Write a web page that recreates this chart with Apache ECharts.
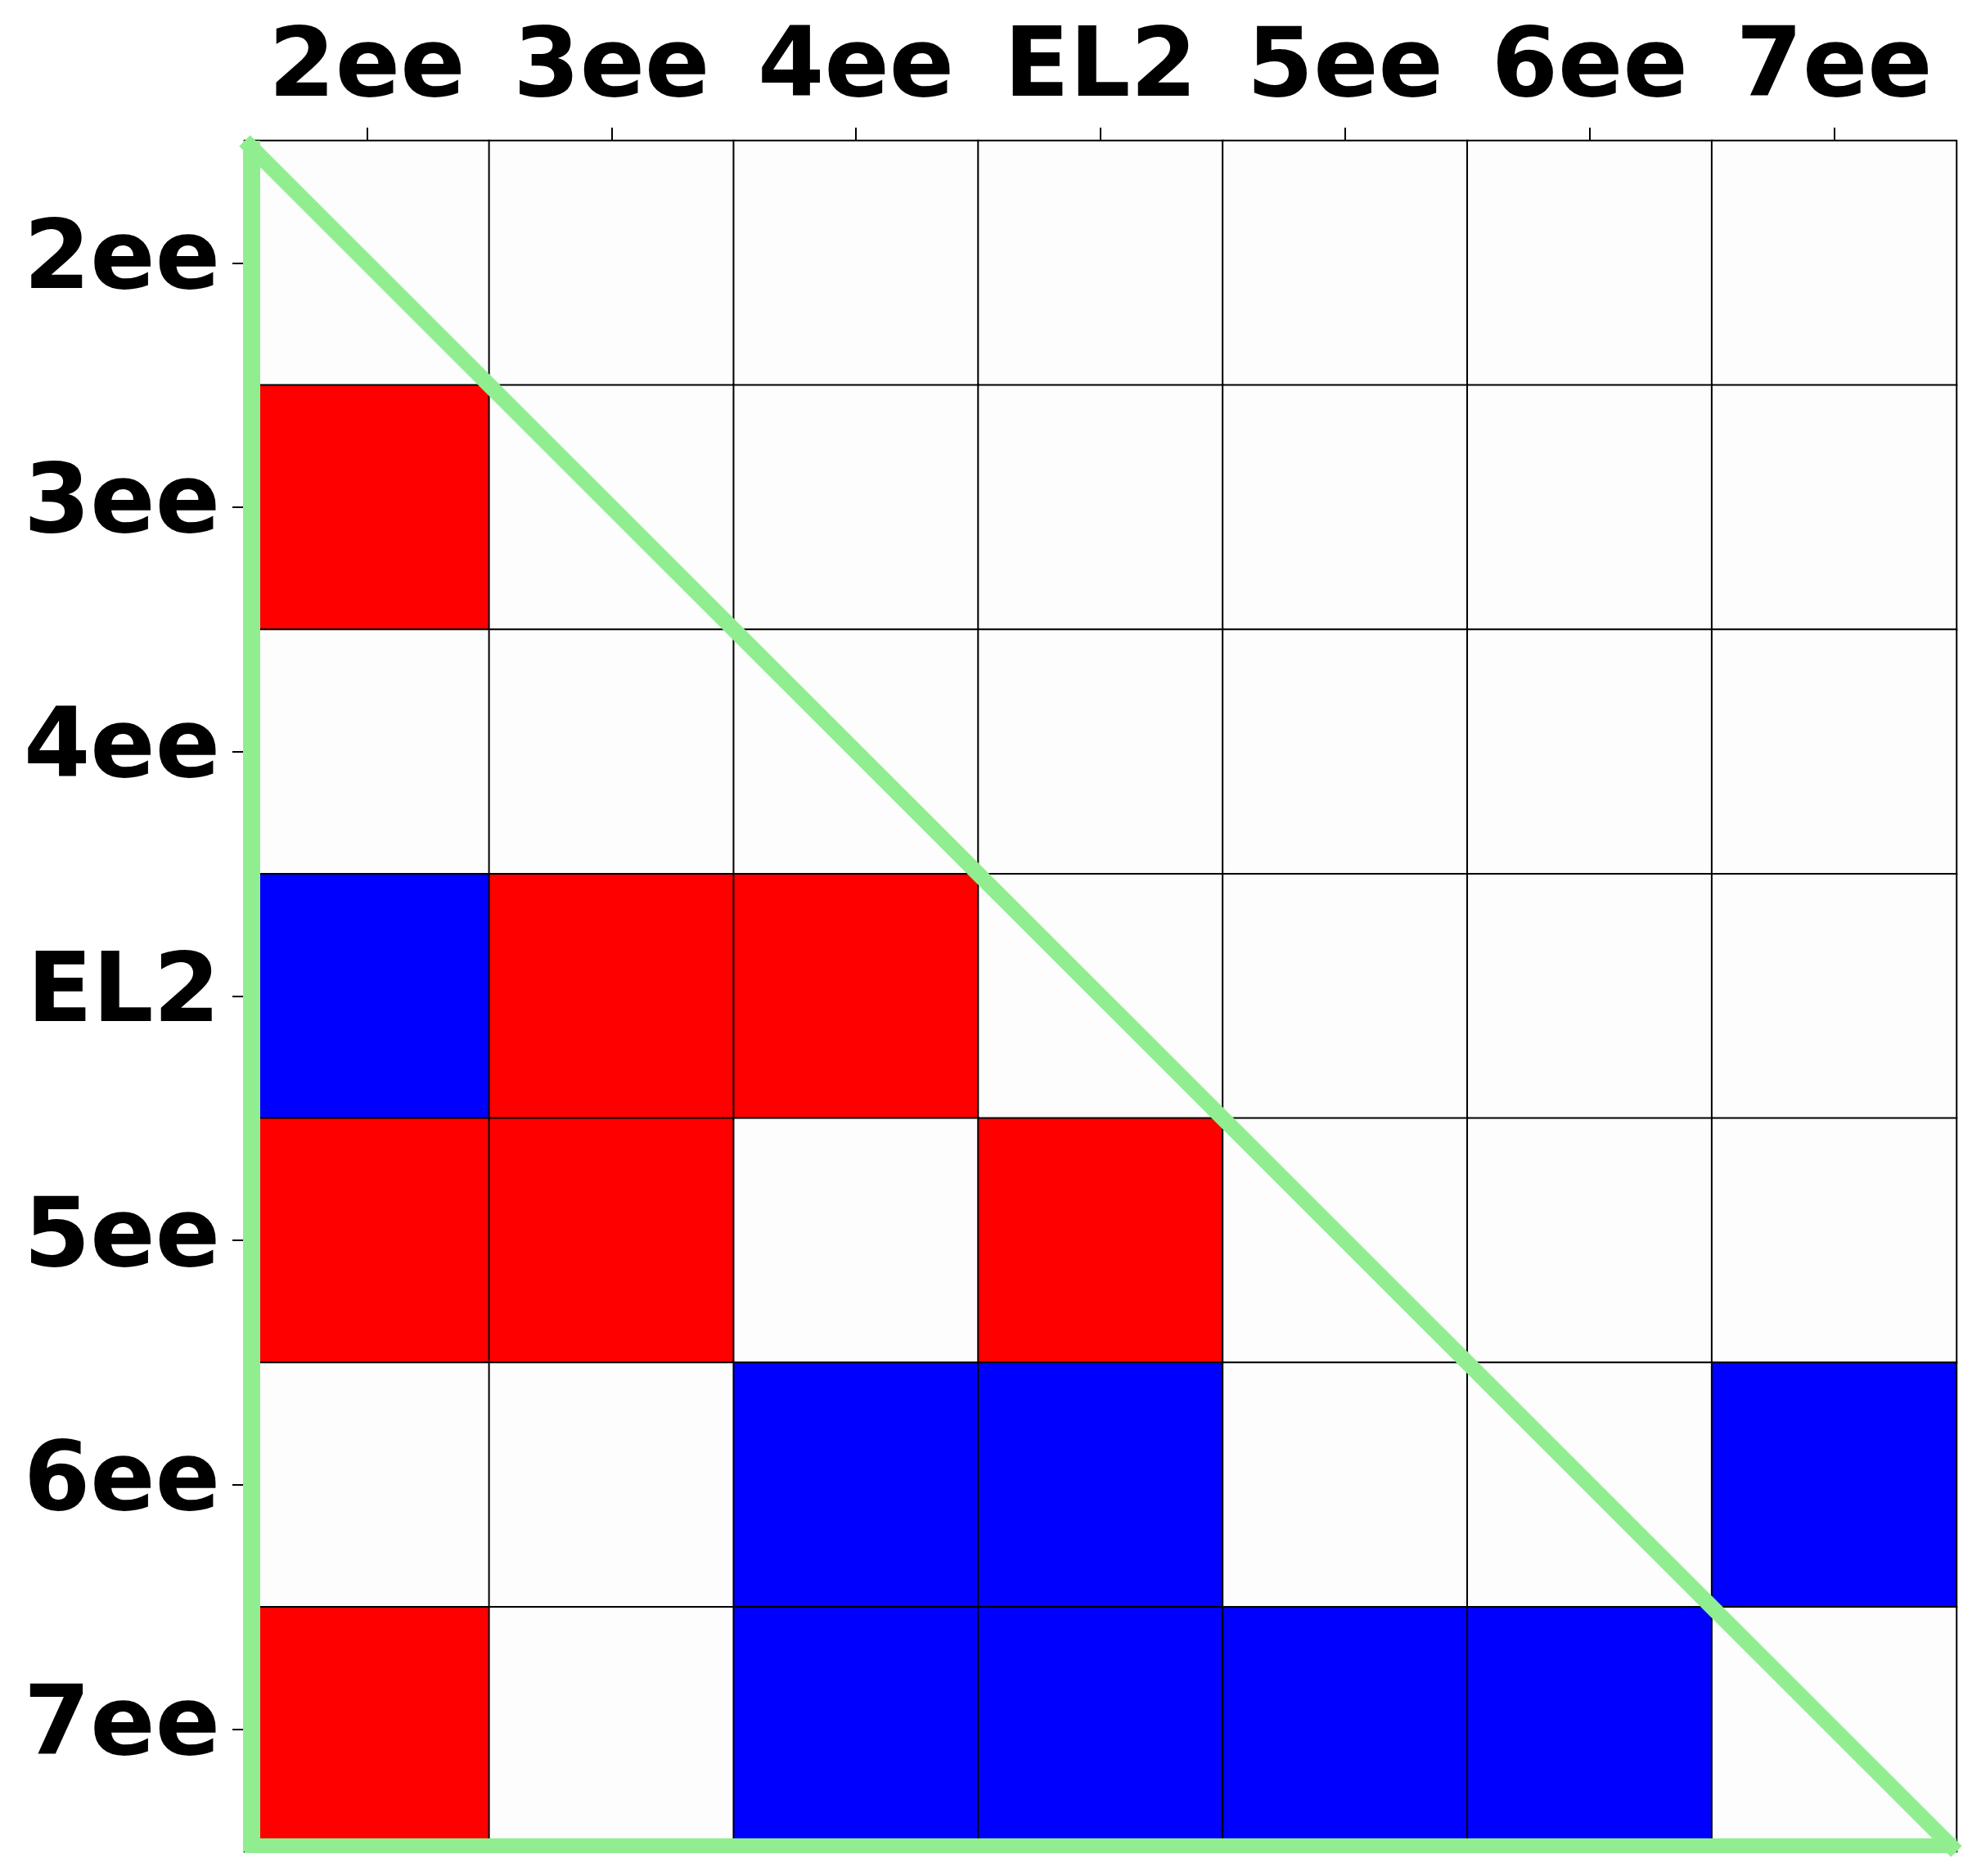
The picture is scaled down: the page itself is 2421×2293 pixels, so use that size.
<!DOCTYPE html>
<html>
<head>
<meta charset="utf-8">
<style>
  html, body { margin: 0; padding: 0; background: #ffffff; }
  #chart { width: 2421px; height: 2293px; }
</style>
<script src="https://cdn.jsdelivr.net/npm/echarts@6/dist/echarts.min.js"></script>
</head>
<body>
<div id="chart"></div>
<script>
// Category labels (same on both axes)
const categories = ['2ee', '3ee', '4ee', 'EL2', '5ee', '6ee', '7ee'];

// Matrix rows (top to bottom), columns follow `categories`; 1 = red, -1 = blue, 0 = white
const row2ee = [0, 0, 0, 0, 0, 0, 0];
const row3ee = [1, 0, 0, 0, 0, 0, 0];
const row4ee = [0, 0, 0, 0, 0, 0, 0];
const rowEL2 = [-1, 1, 1, 0, 0, 0, 0];
const row5ee = [1, 1, 0, 1, 0, 0, 0];
const row6ee = [0, 0, -1, -1, 0, 0, -1];
const row7ee = [1, 0, -1, -1, -1, -1, 0];
const rows = [row2ee, row3ee, row4ee, rowEL2, row5ee, row6ee, row7ee];

const heatData = [];
rows.forEach(function (r, yi) {
  r.forEach(function (v, xi) { heatData.push([xi, yi, v]); });
});

// Plot geometry / style
const G = { left: 299, top: 172, width: 2092, height: 2091 };
const n = categories.length;
const cellW = G.width / n, cellH = G.height / n;
// left band: from 2px outside the edge to 19px inside; bottom band: 2px outside to 16px inside
const leftW = 21, leftCenterPx = 8.5;
const bottomW = 18, bottomCenterPx = 7;
const diagW = 19;
const insetX = leftCenterPx / cellW;
const insetY = bottomCenterPx / cellH;

const font = { fontFamily: 'DejaVu Sans', fontWeight: 'bold', fontSize: 117, color: '#000' };

const chart = echarts.init(document.getElementById('chart'), null, { renderer: 'canvas' });
chart.setOption({
  animation: false,
  backgroundColor: '#ffffff',
  grid: { left: G.left, top: G.top, width: G.width, height: G.height, containLabel: false },
  xAxis: [
    {
      type: 'category', data: categories, position: 'top',
      axisLine: { show: true, lineStyle: { color: '#000', width: 2 } },
      axisTick: { show: true, alignWithLabel: true, length: 16, lineStyle: { color: '#000', width: 2 } },
      axisLabel: Object.assign({ margin: 27, interval: 0 }, font),
      splitLine: { show: false }
    },
    { type: 'value', min: 0, max: n, show: false }
  ],
  yAxis: [
    {
      type: 'category', data: categories, inverse: true, position: 'left',
      axisLine: { show: false },
      axisTick: { show: true, alignWithLabel: true, length: 15, lineStyle: { color: '#000', width: 2 } },
      axisLabel: Object.assign({ margin: 30, interval: 0 }, font),
      splitLine: { show: false }
    },
    { type: 'value', min: 0, max: n, inverse: true, show: false }
  ],
  visualMap: {
    show: false, type: 'piecewise', dimension: 2, seriesIndex: 0,
    pieces: [
      { value: -1, color: '#0000ff' },
      { value: 0, color: '#fdfdfd' },
      { value: 1, color: '#ff0000' }
    ]
  },
  series: [
    {
      type: 'heatmap', data: heatData, xAxisIndex: 0, yAxisIndex: 0,
      itemStyle: { borderColor: '#000', borderWidth: 2 },
      emphasis: { disabled: true }, silent: true, z: 1
    },
    {
      type: 'line', xAxisIndex: 1, yAxisIndex: 1, symbol: 'none', silent: true, z: 5,
      data: [[0, 0], [n, n]],
      lineStyle: { color: '#90ee90', width: diagW, cap: 'butt' }
    },
    {
      type: 'line', xAxisIndex: 1, yAxisIndex: 1, symbol: 'none', silent: true, z: 5,
      data: [[insetX, 0], [insetX, n]],
      lineStyle: { color: '#90ee90', width: leftW, cap: 'butt' }
    },
    {
      type: 'line', xAxisIndex: 1, yAxisIndex: 1, symbol: 'none', silent: true, z: 5,
      data: [[0, n - insetY], [n, n - insetY]],
      lineStyle: { color: '#90ee90', width: bottomW, cap: 'butt' }
    }
  ]
});
</script>
</body>
</html>
